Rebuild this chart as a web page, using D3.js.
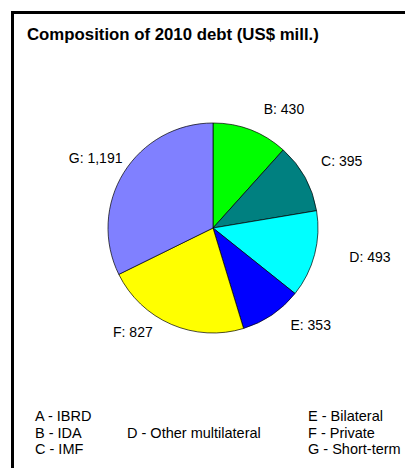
<!DOCTYPE html>
<html>
<head>
<meta charset="utf-8">
<script src="https://cdn.jsdelivr.net/npm/d3@7"></script>
<style>
  html, body { margin: 0; padding: 0; background: #fff; }
  svg { display: block; }
  text { font-family: "Liberation Sans", Arial, sans-serif; fill: #000; }
</style>
</head>
<body>
<svg id="chart" width="405" height="468"></svg>
<script>
// ---- data ----
const title = "Composition of 2010 debt (US$ mill.)";
const categories = ["B", "C", "D", "E", "F", "G"];
const values = [430, 395, 493, 353, 827, 1191];
const colors = ["#00FF00", "#008080", "#00FFFF", "#0000FF", "#FFFF00", "#8080FF"];
const legendCol1 = ["A - IBRD", "B - IDA", "C - IMF"];
const legendCol2 = ["", "D - Other multilateral", ""];
const legendCol3 = ["E - Bilateral", "F - Private", "G - Short-term"];

// ---- layout (label placement: angle shift in degrees, distance in radii) ----
const labelAngleShift = [9.8, 1.4, -4.1, -11.1, 14.2, -1.2];
const labelDist = [1.32, 1.38, 1.52, 1.31, 1.25, 1.30];

const svg = d3.select("#chart");
const cx = 213, cy = 228, R = 105;

// frame (only top and left edges fall inside the picture)
svg.append("rect")
  .attr("x", 12.5).attr("y", 12.5)
  .attr("width", 600).attr("height", 600)
  .attr("fill", "none").attr("stroke", "#000").attr("stroke-width", 3);

svg.append("text")
  .attr("x", 27).attr("y", 40)
  .attr("font-size", "16.8px").attr("font-weight", "bold")
  .text(title);

const fmt = d3.format(",");
const data = categories.map((c, i) => ({ cat: c, value: values[i], color: colors[i], i }));

const pie = d3.pie().sort(null).value(d => d.value);
const arcs = pie(data);
const arc = d3.arc().innerRadius(0).outerRadius(R);

const g = svg.append("g").attr("transform", `translate(${cx},${cy})`);
g.selectAll("path").data(arcs).join("path")
  .attr("d", arc)
  .attr("fill", d => d.data.color)
  .attr("stroke", "#000")
  .attr("stroke-width", 0.7);

g.selectAll("text.lbl").data(arcs).join("text")
  .attr("class", "lbl")
  .attr("transform", d => {
    const mid = (d.startAngle + d.endAngle) / 2 + labelAngleShift[d.data.i] * Math.PI / 180;
    const r = R * labelDist[d.data.i];
    return `translate(${r * Math.sin(mid)},${-r * Math.cos(mid)})`;
  })
  .attr("text-anchor", "middle")
  .attr("dy", "0.35em")
  .attr("font-size", "14px")
  .text(d => `${d.data.cat}: ${fmt(d.data.value)}`);

// legend
const legY = 421, legStep = 16.5;
[[legendCol1, 35], [legendCol2, 127], [legendCol3, 308]].forEach(([col, x]) => {
  col.forEach((t, k) => {
    if (!t) return;
    svg.append("text")
      .attr("x", x).attr("y", legY + k * legStep)
      .attr("font-size", "14.5px")
      .text(t);
  });
});
</script>
</body>
</html>
